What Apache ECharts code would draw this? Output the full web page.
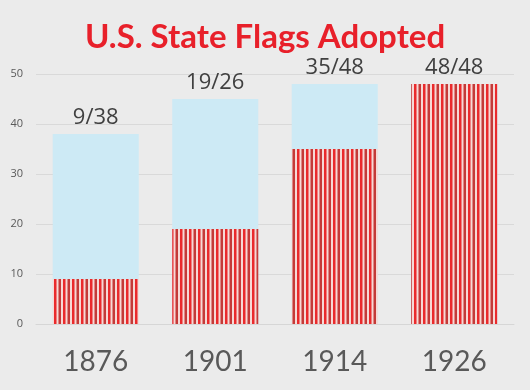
<!DOCTYPE html>
<html><head><meta charset="utf-8">
<script src="https://cdn.jsdelivr.net/npm/echarts@6/dist/echarts.min.js"></script>
<style>html,body{margin:0;padding:0;background:#ebebeb}#c{width:530px;height:390px}</style>
</head><body><div id="c"></div>
<script>
const categories = ['1876', '1901', '1914', '1926'];
const totalStates = [38, 45, 48, 48];
const flagsAdopted = [9, 19, 35, 48];
const barLabels = ['9/38', '19/26', '35/48', '48/48'];
const yTicks = [0, 10, 20, 30, 40, 50];

function stripes() {
  const c = document.createElement('canvas');
  c.width = 9; c.height = 4;
  const g = c.getContext('2d');
  g.fillStyle = '#f6d9d6'; g.fillRect(0, 0, 9, 4);
  g.fillStyle = '#ea2a2c'; g.fillRect(0, 0, 2.5, 4);
  g.fillStyle = '#c43a38'; g.fillRect(4.5, 0, 2.5, 4);
  return c;
}

const chart = echarts.init(document.getElementById('c'), null, {renderer: 'canvas'});
chart.setOption({
  backgroundColor: '#ebebeb',
  animation: false,
  title: {
    text: 'U.S. State Flags Adopted', left: 'center', top: 16,
    textStyle: {color: '#e8202a', fontFamily: 'Lato', fontWeight: 'bold', fontSize: 33}
  },
  grid: {left: 36, right: 16, top: 74, bottom: 66},
  xAxis: {
    type: 'category', data: categories,
    axisLine: {show: true, lineStyle: {color: '#d6d6d6'}},
    axisTick: {show: false},
    axisLabel: {color: '#595959', fontSize: 28, fontFamily: 'Lato', margin: 24}
  },
  yAxis: {
    type: 'value', min: yTicks[0], max: yTicks[yTicks.length - 1], interval: 10,
    axisLine: {show: false}, axisTick: {show: false},
    splitLine: {lineStyle: {color: '#d9d9d9'}},
    axisLabel: {color: '#595959', fontSize: 11, fontFamily: 'Open Sans', margin: 13}
  },
  series: [
    {
      type: 'bar', data: totalStates, barWidth: '72%', barGap: '-100%',
      itemStyle: {color: '#cdeaf5'},
      label: {show: true, position: 'top', distance: 5,
        formatter: p => barLabels[p.dataIndex],
        color: '#404040', fontSize: 22, fontFamily: 'Open Sans'}
    },
    {
      type: 'bar', data: flagsAdopted, barWidth: '72%',
      itemStyle: {color: {image: stripes(), repeat: 'repeat'}}
    }
  ]
});
</script></body></html>
